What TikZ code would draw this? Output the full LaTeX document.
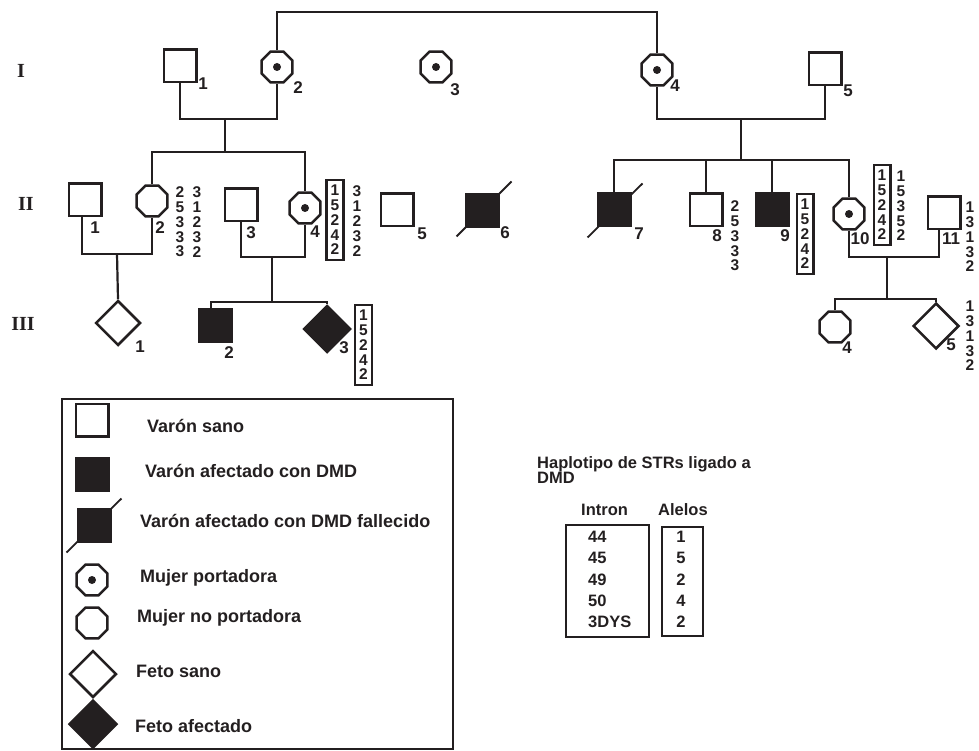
\documentclass[tikz,border=0pt]{standalone}
\usepackage{fontspec}
\setmainfont{Liberation Sans}
\newfontfamily\genfont{Liberation Serif}
\usetikzlibrary{shapes.geometric,calc}
\definecolor{ink}{RGB}{35,31,32}
\begin{document}
\begin{tikzpicture}[x=1pt,y=-1pt,
  every node/.style={text=ink},
  sym/.style={draw=ink, line width=2.5pt, inner sep=0pt},
  male/.style={sym, rectangle, minimum size=32.5pt},
  aff/.style={fill=ink},
  female/.style={sym, regular polygon, regular polygon sides=8, minimum size=33.5pt},
  fetus/.style={sym, diamond, aspect=1, minimum size=44pt},
  lbl/.style={font=\fontsize{17}{17}\selectfont\bfseries, inner sep=0pt},
  col/.style={font=\fontsize{15.5}{14.8}\selectfont\bfseries, align=center, inner sep=0pt},
  boxcol/.style={col, draw=ink, line width=2.4pt, inner xsep=4pt, inner ysep=5pt},
  gen/.style={font=\fontsize{20}{20}\selectfont\genfont\bfseries, inner sep=0pt},
  leg/.style={font=\fontsize{18}{18}\selectfont\bfseries, anchor=base west, inner sep=0pt},
  hap/.style={font=\fontsize{16.5}{16.5}\selectfont\bfseries, inner sep=0pt},
  link/.style={draw=ink, line width=1.4pt},
  dead/.style={draw=ink, line width=1.8pt},
]
\useasboundingbox (0,0) rectangle (979,751);

% generation labels
\node[gen] (gI) at (21,71) {I};
\node[gen] (gII) at (26,204) {II};
\node[gen] (gIII) at (23,324) {III};

% generation I
\node[male] (I1) at (180,66) {};
\node[female] (I2) at (277,67) {};
\node[female] (I3) at (436,67) {};
\node[female] (I4) at (657,70) {};
\node[male] (I5) at (825,69) {};
\fill[ink] (I2.center) circle[radius=4pt];
\fill[ink] (I3.center) circle[radius=4pt];
\fill[ink] (I4.center) circle[radius=4pt];
\node[lbl] (nI1) at (203,84) {1};
\node[lbl] (nI2) at (298,88) {2};
\node[lbl] (nI3) at (455,90) {3};
\node[lbl] (nI4) at (675,86) {4};
\node[lbl] (nI5) at (848,91) {5};

% generation II
\node[male] (II1) at (85,200) {};
\node[female] (II2) at (152,201) {};
\node[male] (II3) at (241,205) {};
\node[female] (II4) at (305,208) {};
\node[male] (II5) at (397,210) {};
\node[male,aff] (II6) at (482,211) {};
\node[male,aff] (II7) at (614,210) {};
\node[male] (II8) at (706,210) {};
\node[male,aff] (II9) at (772,210) {};
\node[female] (II10) at (849,214) {};
\node[male] (II11) at (944,213) {};
\fill[ink] (II4.center) circle[radius=4pt];
\fill[ink] (II10.center) circle[radius=4pt];
\draw[dead] ($(II6.south west)+(-8,8)$) -- ($(II6.north east)+(12,-12)$);
\draw[dead] ($(II7.south west)+(-9,10)$) -- ($(II7.north east)+(11,-9)$);
\node[lbl] (nII1) at (95,228) {1};
\node[lbl] (nII2) at (160,228) {2};
\node[lbl] (nII3) at (251,233) {3};
\node[lbl] (nII4) at (315,232) {4};
\node[lbl] (nII5) at (422,234) {5};
\node[lbl] (nII6) at (505,233) {6};
\node[lbl] (nII7) at (639,234) {7};
\node[lbl] (nII8) at (717,236) {8};
\node[lbl] (nII9) at (785,236) {9};
\node[lbl] (nII10) at (860,239) {10};
\node[lbl] (nII11) at (951,239) {11};

% haplotype columns
\node[col] (h2a) at (180,222) {2\\5\\3\\3\\3};
\node[col] (h2b) at (197,222) {3\\1\\2\\3\\2};
\node[boxcol] (h4a) at (335,220) {1\\5\\2\\4\\2};
\node[col] (h4b) at (357,221) {3\\1\\2\\3\\2};
\node[col] (h8) at (735,236) {2\\5\\3\\3\\3};
\node[boxcol] (h9) at (805,234) {1\\5\\2\\4\\2};
\node[boxcol] (h10a) at (882,205) {1\\5\\2\\4\\2};
\node[col] (h10b) at (901,206) {1\\5\\3\\5\\2};
\node[col] (h11) at (970,237) {1\\3\\1\\3\\2};

% generation III
\node[fetus, minimum size=45pt] (III1) at (118,323) {};
\node[male,aff] (III2) at (215,325) {};
\node[fetus,aff, minimum size=47pt] (III3) at (327,329) {};
\node[female] (III4) at (835,327) {};
\node[fetus, minimum size=46pt] (III5) at (936,326) {};
\node[lbl] (nIII1) at (140,347) {1};
\node[lbl] (nIII2) at (229,353) {2};
\node[lbl] (nIII3) at (344,348) {3};
\node[lbl] (nIII4) at (847,348) {4};
\node[lbl] (nIII5) at (951,345) {5};
\node[boxcol] (h33) at (363.5,345) {1\\5\\2\\4\\2};
\node[col] (h35) at (970,336) {1\\3\\1\\3\\2};

% connectors
\coordinate (top) at (468,12);
\draw[link] (I2.north) |- (top) -| (I4.north);
\coordinate (m1) at (225,119);
\coordinate (s1) at (225,152);
\draw[link] (I1.south) |- (m1) -| (I2.south);
\draw[link] (m1) -- (s1);
\draw[link] (II2.north) |- (s1) -| (II4.north);
\coordinate (m2) at (741,119);
\coordinate (s2) at (741,160);
\draw[link] (I4.south) |- (m2) -| (I5.south);
\draw[link] (m2) -- (s2);
\draw[link] (II7.north) |- (s2) -| (II10.north);
\draw[link] (II8.north) -- (II8.north |- s2);
\draw[link] (II9.north) -- (II9.north |- s2);
\coordinate (m3) at (117,254);
\draw[link] ($(II1.south)+(-3,0)$) |- (m3) -| (II2.south);
\draw[draw=ink, line width=2.2pt] (m3) -- (III1.north);
\coordinate (m4) at (272,257);
\coordinate (s4) at (272,302);
\draw[link] (II3.south) |- (m4) -| (II4.south);
\draw[link] (m4) -- (s4);
\draw[link] ($(III2.north)+(-4,0)$) |- (s4) -| (III3.north);
\coordinate (m5) at (887,257);
\coordinate (s5) at (887,299);
\draw[link] (II10.south) |- (m5) -| ($(II11.south)+(-5,0)$);
\draw[link] (m5) -- (s5);
\draw[link] (III4.north) |- (s5) -| (III5.north);

% legend
\draw[draw=ink, line width=2.2pt] (62,399) rectangle (453,749);
\node[male] (L1) at (92,420) {};
\node[male,aff] (L2) at (92,474) {};
\node[male,aff] (L3) at (94,525) {};
\draw[dead] ($(L3.south west)+(-10,10)$) -- ($(L3.north east)+(10,-9)$);
\node[female] (L4) at (92,580) {};
\fill[ink] (L4.center) circle[radius=4pt];
\node[female] (L5) at (92,623) {};
\node[fetus, minimum size=47pt] (L6) at (93,674) {};
\node[fetus,aff, minimum size=48pt] (L7) at (93,724) {};
\node[leg] (t1) at (147,432) {Varón sano};
\node[leg] (t2) at (145,477) {Varón afectado con DMD};
\node[leg] (t3) at (140,527) {Varón afectado con DMD fallecido};
\node[leg] (t4) at (140,582) {Mujer portadora};
\node[leg] (t5) at (137,622) {Mujer no portadora};
\node[leg] (t6) at (136,677) {Feto sano};
\node[leg] (t7) at (135,732) {Feto afectado};

% haplotype table
\node[hap, anchor=base west] (ht1) at (537,468) {Haplotipo de STRs ligado a};
\node[hap, anchor=base west] (ht2) at (537,483) {DMD};
\node[hap, anchor=base west] (hI) at (581,515) {Intron};
\node[hap, anchor=base west] (hA) at (658,515) {Alelos};
\draw[draw=ink, line width=2.4pt] (566,525) rectangle (649,637);
\draw[draw=ink, line width=2.4pt] (662,527) rectangle (703,636);
\node[hap, anchor=base west] (r1) at (588,542) {44};
\node[hap, anchor=base west] (r2) at (588,563) {45};
\node[hap, anchor=base west] (r3) at (588,585) {49};
\node[hap, anchor=base west] (r4) at (588,606) {50};
\node[hap, anchor=base west] (r5) at (588,627) {3DYS};
\node[hap, anchor=base] (a1) at (681,542) {1};
\node[hap, anchor=base] (a2) at (681,563) {5};
\node[hap, anchor=base] (a3) at (681,585) {2};
\node[hap, anchor=base] (a4) at (681,606) {4};
\node[hap, anchor=base] (a5) at (681,627) {2};
\end{tikzpicture}
\end{document}
